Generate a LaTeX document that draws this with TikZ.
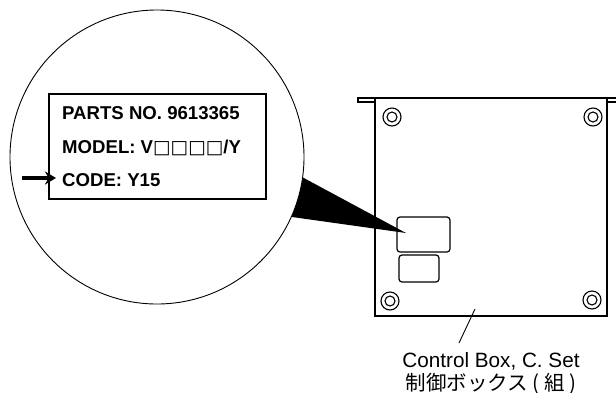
\documentclass[tikz,border=0pt]{standalone}
\usepackage{fontspec}
\setmainfont{Liberation Sans}
\newfontfamily\jpfont{Noto Sans CJK JP}
\newfontfamily\boxfont{DejaVu Sans}
\usepackage{tikz}
\usetikzlibrary{arrows.meta}
\tikzset{
    tagtext/.style = {inner sep=0pt, anchor=base west, font=\fontsize{18.6}{22}\selectfont\bfseries},
    note/.style = {inner sep=0pt, anchor=base, font=\fontsize{20.7}{24}\selectfont},
    jpnote/.style = {inner sep=0pt, anchor=base, font=\fontsize{20.5}{24}\selectfont\jpfont},
    lens/.style = {circle, draw=black, fill=white, line width=0.9pt, minimum size=294pt, inner sep=0pt},
    tag/.style = {rectangle, draw=black, line width=1.2pt, minimum width=217pt, minimum height=105pt, inner sep=0pt},
    plate/.style = {draw=black, line width=1.5pt},
    seal/.style = {rectangle, rounded corners=3pt, draw=black, line width=1.2pt, inner sep=0pt},
    screw/.style = {circle, draw=black, line width=1.1pt, minimum size=18pt, inner sep=0pt,
        path picture={\draw[line width=1.1pt] (path picture bounding box.center) circle (5pt);}}
}
\begin{document}
\begin{tikzpicture}
    [x=1pt, y=-1pt, >={Stealth[length=11pt, width=13pt]}]
    \useasboundingbox (0,0) rectangle (616,392);

    % control box
    \draw[plate] (375,98) rectangle (607,316);
    \draw[plate] (358,98) rectangle (375,102);
    \draw[plate] (607,98) -- (617,98) (607,102) -- (617,102);
    \node[screw] (screwtl) at (392,117) {};
    \node[screw] (screwtr) at (593,117) {};
    \node[screw] (screwbl) at (390,301) {};
    \node[screw] (screwbr) at (592,300) {};
    \node[seal, minimum width=53pt, minimum height=35pt] (sealtop) at (423.5,234.5) {};
    \node[seal, minimum width=40pt, minimum height=27pt] (sealbot) at (419,268.5) {};

    % wedge to the magnifier
    \coordinate (tip) at (406,233);
    \coordinate (wedgeup) at (260,154.4);
    \coordinate (wedgelow) at (260,212.5);
    \fill[black] (tip) -- (wedgeup) -- (wedgelow) -- cycle;

    % magnified label
    \node[lens] (lens) at (157,157) {};
    \node[tag] (tag) at (157.5,146.5) {};
    \node[tagtext] (partsno) at (62,119) {PARTS NO. 9613365};
    \node[tagtext] (model) at (62,153) {MODEL: V{\boxfont\mdseries □□□□}/Y};
    \node[tagtext] (code) at (62,186) {CODE: Y15};
    \coordinate (arrowtail) at (22,178);
    \coordinate (arrowtip) at (56,178);
    \draw[->, line width=4.5pt] (arrowtail) -- (arrowtip);

    % callout
    \coordinate (leadtop) at (475,309);
    \coordinate (leadend) at (459,343);
    \draw[line width=0.9pt] (leadtop) -- (leadend);
    \node[note] (boxname) at (491,367) {Control Box, C. Set};
    \node[jpnote] (boxnamejp) at (491,390) {制御ボックス ( 組 )};
\end{tikzpicture}
\end{document}
